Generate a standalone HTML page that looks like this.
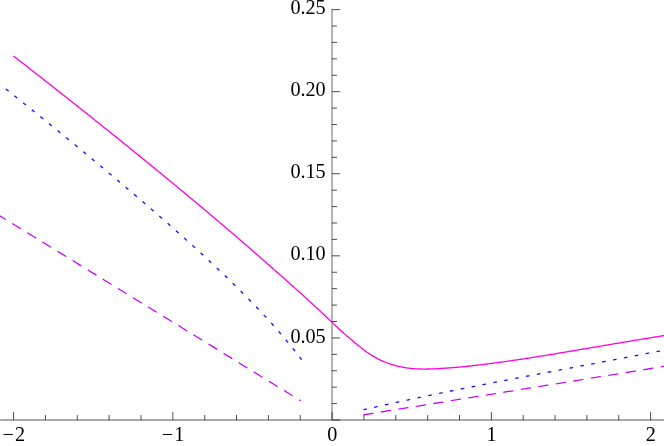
<!DOCTYPE html>
<html><head><meta charset="utf-8"><title>plot</title>
<style>
html,body{margin:0;padding:0;background:#fff;}
#c{position:relative;width:664px;height:446px;overflow:hidden;background:#fff;font-family:"Liberation Serif",serif;font-size:20.2px;color:#000;line-height:24px;}
#c svg{position:absolute;left:0;top:0;}
#t{position:absolute;left:0;top:0;width:664px;height:446px;will-change:transform;}
.yl{position:absolute;right:338.3px;height:24px;white-space:nowrap;text-align:right;}
.xl{position:absolute;top:422px;width:60px;text-align:center;height:24px;white-space:nowrap;}
.g{display:inline-block;width:1.2px;}
</style></head><body>
<div id="c">
<svg width="664" height="446" viewBox="0 0 664 446"><g fill="none"><line x1="0.2" y1="420.0" x2="664" y2="420.0" stroke="#8a8a8a" stroke-width="1.3"/><line x1="332.0" y1="9.10" x2="332.0" y2="420.65" stroke="#8a8a8a" stroke-width="1.3"/><line x1="13.58" y1="420.00" x2="13.58" y2="412.00" stroke="#0a0a0a" stroke-width="0.72"/><line x1="45.43" y1="420.00" x2="45.43" y2="415.00" stroke="#0a0a0a" stroke-width="0.72"/><line x1="77.28" y1="420.00" x2="77.28" y2="415.00" stroke="#0a0a0a" stroke-width="0.72"/><line x1="109.14" y1="420.00" x2="109.14" y2="415.00" stroke="#0a0a0a" stroke-width="0.72"/><line x1="140.99" y1="420.00" x2="140.99" y2="415.00" stroke="#0a0a0a" stroke-width="0.72"/><line x1="172.84" y1="420.00" x2="172.84" y2="412.00" stroke="#0a0a0a" stroke-width="0.72"/><line x1="204.69" y1="420.00" x2="204.69" y2="415.00" stroke="#0a0a0a" stroke-width="0.72"/><line x1="236.54" y1="420.00" x2="236.54" y2="415.00" stroke="#0a0a0a" stroke-width="0.72"/><line x1="268.40" y1="420.00" x2="268.40" y2="415.00" stroke="#0a0a0a" stroke-width="0.72"/><line x1="300.25" y1="420.00" x2="300.25" y2="415.00" stroke="#0a0a0a" stroke-width="0.72"/><line x1="332.10" y1="420.00" x2="332.10" y2="412.00" stroke="#0a0a0a" stroke-width="0.72"/><line x1="363.95" y1="420.00" x2="363.95" y2="415.00" stroke="#0a0a0a" stroke-width="0.72"/><line x1="395.80" y1="420.00" x2="395.80" y2="415.00" stroke="#0a0a0a" stroke-width="0.72"/><line x1="427.66" y1="420.00" x2="427.66" y2="415.00" stroke="#0a0a0a" stroke-width="0.72"/><line x1="459.51" y1="420.00" x2="459.51" y2="415.00" stroke="#0a0a0a" stroke-width="0.72"/><line x1="491.36" y1="420.00" x2="491.36" y2="412.00" stroke="#0a0a0a" stroke-width="0.72"/><line x1="523.21" y1="420.00" x2="523.21" y2="415.00" stroke="#0a0a0a" stroke-width="0.72"/><line x1="555.06" y1="420.00" x2="555.06" y2="415.00" stroke="#0a0a0a" stroke-width="0.72"/><line x1="586.92" y1="420.00" x2="586.92" y2="415.00" stroke="#0a0a0a" stroke-width="0.72"/><line x1="618.77" y1="420.00" x2="618.77" y2="415.00" stroke="#0a0a0a" stroke-width="0.72"/><line x1="650.62" y1="420.00" x2="650.62" y2="412.00" stroke="#0a0a0a" stroke-width="0.72"/><line x1="332.0" y1="420.00" x2="340.00" y2="420.00" stroke="#0a0a0a" stroke-width="0.72"/><line x1="332.0" y1="403.58" x2="337.00" y2="403.58" stroke="#0a0a0a" stroke-width="0.72"/><line x1="332.0" y1="387.17" x2="337.00" y2="387.17" stroke="#0a0a0a" stroke-width="0.72"/><line x1="332.0" y1="370.75" x2="337.00" y2="370.75" stroke="#0a0a0a" stroke-width="0.72"/><line x1="332.0" y1="354.34" x2="337.00" y2="354.34" stroke="#0a0a0a" stroke-width="0.72"/><line x1="332.0" y1="337.92" x2="340.00" y2="337.92" stroke="#0a0a0a" stroke-width="0.72"/><line x1="332.0" y1="321.50" x2="337.00" y2="321.50" stroke="#0a0a0a" stroke-width="0.72"/><line x1="332.0" y1="305.09" x2="337.00" y2="305.09" stroke="#0a0a0a" stroke-width="0.72"/><line x1="332.0" y1="288.67" x2="337.00" y2="288.67" stroke="#0a0a0a" stroke-width="0.72"/><line x1="332.0" y1="272.26" x2="337.00" y2="272.26" stroke="#0a0a0a" stroke-width="0.72"/><line x1="332.0" y1="255.84" x2="340.00" y2="255.84" stroke="#0a0a0a" stroke-width="0.72"/><line x1="332.0" y1="239.42" x2="337.00" y2="239.42" stroke="#0a0a0a" stroke-width="0.72"/><line x1="332.0" y1="223.01" x2="337.00" y2="223.01" stroke="#0a0a0a" stroke-width="0.72"/><line x1="332.0" y1="206.59" x2="337.00" y2="206.59" stroke="#0a0a0a" stroke-width="0.72"/><line x1="332.0" y1="190.18" x2="337.00" y2="190.18" stroke="#0a0a0a" stroke-width="0.72"/><line x1="332.0" y1="173.76" x2="340.00" y2="173.76" stroke="#0a0a0a" stroke-width="0.72"/><line x1="332.0" y1="157.34" x2="337.00" y2="157.34" stroke="#0a0a0a" stroke-width="0.72"/><line x1="332.0" y1="140.93" x2="337.00" y2="140.93" stroke="#0a0a0a" stroke-width="0.72"/><line x1="332.0" y1="124.51" x2="337.00" y2="124.51" stroke="#0a0a0a" stroke-width="0.72"/><line x1="332.0" y1="108.10" x2="337.00" y2="108.10" stroke="#0a0a0a" stroke-width="0.72"/><line x1="332.0" y1="91.68" x2="340.00" y2="91.68" stroke="#0a0a0a" stroke-width="0.72"/><line x1="332.0" y1="75.26" x2="337.00" y2="75.26" stroke="#0a0a0a" stroke-width="0.72"/><line x1="332.0" y1="58.85" x2="337.00" y2="58.85" stroke="#0a0a0a" stroke-width="0.72"/><line x1="332.0" y1="42.43" x2="337.00" y2="42.43" stroke="#0a0a0a" stroke-width="0.72"/><line x1="332.0" y1="26.02" x2="337.00" y2="26.02" stroke="#0a0a0a" stroke-width="0.72"/><line x1="332.0" y1="9.60" x2="340.00" y2="9.60" stroke="#0a0a0a" stroke-width="0.72"/><path d="M13.40,55.92 L14.70,56.94 L16.01,57.96 L17.31,58.97 L18.62,59.99 L19.92,61.01 L21.23,62.02 L22.53,63.04 L23.84,64.06 L25.14,65.08 L26.45,66.09 L27.75,67.11 L29.06,68.13 L30.36,69.15 L31.67,70.17 L32.97,71.19 L34.28,72.21 L35.58,73.23 L36.89,74.26 L38.19,75.28 L39.50,76.30 L40.80,77.32 L42.11,78.34 L43.41,79.37 L44.72,80.39 L46.02,81.41 L47.33,82.44 L48.63,83.46 L49.93,84.49 L51.24,85.51 L52.54,86.54 L53.85,87.57 L55.15,88.59 L56.46,89.62 L57.76,90.65 L59.07,91.68 L60.37,92.71 L61.68,93.73 L62.98,94.76 L64.29,95.79 L65.59,96.82 L66.90,97.85 L68.20,98.89 L69.51,99.92 L70.81,100.95 L72.12,101.98 L73.42,103.01 L74.73,104.05 L76.03,105.08 L77.34,106.12 L78.64,107.15 L79.95,108.19 L81.25,109.22 L82.55,110.26 L83.86,111.29 L85.16,112.33 L86.47,113.37 L87.77,114.41 L89.08,115.45 L90.38,116.49 L91.69,117.53 L92.99,118.57 L94.30,119.61 L95.60,120.65 L96.91,121.69 L98.21,122.73 L99.52,123.77 L100.82,124.82 L102.13,125.86 L103.43,126.91 L104.74,127.95 L106.04,129.00 L107.35,130.04 L108.65,131.09 L109.96,132.14 L111.26,133.18 L112.57,134.23 L113.87,135.28 L115.18,136.33 L116.48,137.38 L117.78,138.43 L119.09,139.48 L120.39,140.53 L121.70,141.58 L123.00,142.64 L124.31,143.69 L125.61,144.74 L126.92,145.80 L128.22,146.85 L129.53,147.91 L130.83,148.97 L132.14,150.02 L133.44,151.08 L134.75,152.14 L136.05,153.20 L137.36,154.26 L138.66,155.32 L139.97,156.38 L141.27,157.44 L142.58,158.50 L143.88,159.56 L145.19,160.62 L146.49,161.69 L147.80,162.75 L149.10,163.82 L150.41,164.88 L151.71,165.95 L153.01,167.02 L154.32,168.08 L155.62,169.15 L156.93,170.22 L158.23,171.29 L159.54,172.36 L160.84,173.43 L162.15,174.50 L163.45,175.58 L164.76,176.65 L166.06,177.72 L167.37,178.80 L168.67,179.87 L169.98,180.95 L171.28,182.03 L172.59,183.10 L173.89,184.18 L175.20,185.26 L176.50,186.34 L177.81,187.42 L179.11,188.50 L180.42,189.58 L181.72,190.66 L183.03,191.75 L184.33,192.83 L185.63,193.91 L186.94,195.00 L188.24,196.09 L189.55,197.17 L190.85,198.26 L192.16,199.35 L193.46,200.44 L194.77,201.53 L196.07,202.62 L197.38,203.71 L198.68,204.80 L199.99,205.89 L201.29,206.99 L202.60,208.08 L203.90,209.18 L205.21,210.27 L206.51,211.37 L207.82,212.47 L209.12,213.56 L210.43,214.66 L211.73,215.76 L213.04,216.86 L214.34,217.97 L215.65,219.07 L216.95,220.17 L218.26,221.27 L219.56,222.38 L220.86,223.48 L222.17,224.59 L223.47,225.70 L224.78,226.81 L226.08,227.92 L227.39,229.03 L228.69,230.14 L230.00,231.25 L231.30,232.36 L232.61,233.47 L233.91,234.59 L235.22,235.70 L236.52,236.82 L237.83,237.94 L239.13,239.05 L240.44,240.18 L241.74,241.30 L243.05,242.43 L244.35,243.56 L245.66,244.70 L246.96,245.83 L248.27,246.97 L249.57,248.11 L250.88,249.25 L252.18,250.39 L253.48,251.54 L254.79,252.68 L256.09,253.83 L257.40,254.97 L258.70,256.12 L260.01,257.27 L261.31,258.41 L262.62,259.56 L263.92,260.70 L265.23,261.85 L266.53,262.99 L267.84,264.14 L269.14,265.28 L270.45,266.43 L271.75,267.58 L273.06,268.72 L274.36,269.87 L275.67,271.02 L276.97,272.17 L278.28,273.32 L279.58,274.47 L280.89,275.62 L282.19,276.78 L283.50,277.93 L284.80,279.09 L286.11,280.25 L287.41,281.40 L288.71,282.56 L290.02,283.73 L291.32,284.89 L292.63,286.05 L293.93,287.22 L295.24,288.39 L296.54,289.56 L297.85,290.73 L299.15,291.90 L300.46,293.08 L301.76,294.26 L303.07,295.44 L304.37,296.62 L305.68,297.81 L306.98,299.00 L308.29,300.19 L309.59,301.38 L310.90,302.58 L312.20,303.78 L313.51,304.98 L314.81,306.18 L316.12,307.39 L317.42,308.60 L318.73,309.82 L320.03,311.04 L321.34,312.26 L322.64,313.48 L323.94,314.71 L325.25,315.94 L326.55,317.18 L327.86,318.41 L329.16,319.65 L330.47,320.89 L331.77,322.13 L333.08,323.37 L334.38,324.61 L335.69,325.84 L336.99,327.06 L338.30,328.27 L339.60,329.46 L340.91,330.65 L342.21,331.82 L343.52,332.98 L344.82,334.13 L346.13,335.27 L347.43,336.39 L348.74,337.51 L350.04,338.62 L351.35,339.73 L352.65,340.82 L353.96,341.90 L355.26,342.98 L356.56,344.06 L357.87,345.13 L359.17,346.19 L360.48,347.24 L361.78,348.28 L363.09,349.30 L364.39,350.29 L365.70,351.25 L367.00,352.19 L368.31,353.08 L369.61,353.95 L370.92,354.79 L372.22,355.61 L373.53,356.40 L374.83,357.16 L376.14,357.90 L377.44,358.60 L378.75,359.28 L380.05,359.92 L381.36,360.54 L382.66,361.13 L383.97,361.69 L385.27,362.23 L386.58,362.75 L387.88,363.24 L389.19,363.71 L390.49,364.16 L391.79,364.58 L393.10,364.98 L394.40,365.36 L395.71,365.72 L397.01,366.06 L398.32,366.37 L399.62,366.67 L400.93,366.95 L402.23,367.20 L403.54,367.44 L404.84,367.66 L406.15,367.86 L407.45,368.04 L408.76,368.21 L410.06,368.36 L411.37,368.49 L412.67,368.60 L413.98,368.70 L415.28,368.79 L416.59,368.86 L417.89,368.92 L419.20,368.97 L420.50,369.01 L421.81,369.03 L423.11,369.04 L424.42,369.05 L425.72,369.04 L427.02,369.02 L428.33,369.00 L429.63,368.97 L430.94,368.93 L432.24,368.89 L433.55,368.84 L434.85,368.78 L436.16,368.72 L437.46,368.65 L438.77,368.58 L440.07,368.50 L441.38,368.42 L442.68,368.34 L443.99,368.25 L445.29,368.16 L446.60,368.07 L447.90,367.98 L449.21,367.88 L450.51,367.79 L451.82,367.68 L453.12,367.58 L454.43,367.48 L455.73,367.37 L457.04,367.26 L458.34,367.15 L459.64,367.03 L460.95,366.91 L462.25,366.79 L463.56,366.66 L464.86,366.54 L466.17,366.40 L467.47,366.27 L468.78,366.13 L470.08,365.99 L471.39,365.84 L472.69,365.70 L474.00,365.55 L475.30,365.40 L476.61,365.25 L477.91,365.10 L479.22,364.94 L480.52,364.78 L481.83,364.63 L483.13,364.47 L484.44,364.31 L485.74,364.14 L487.05,363.98 L488.35,363.81 L489.66,363.65 L490.96,363.48 L492.27,363.31 L493.57,363.14 L494.87,362.97 L496.18,362.79 L497.48,362.62 L498.79,362.44 L500.09,362.26 L501.40,362.08 L502.70,361.90 L504.01,361.72 L505.31,361.54 L506.62,361.35 L507.92,361.17 L509.23,360.98 L510.53,360.79 L511.84,360.60 L513.14,360.41 L514.45,360.22 L515.75,360.03 L517.06,359.84 L518.36,359.64 L519.67,359.45 L520.97,359.25 L522.28,359.05 L523.58,358.85 L524.89,358.65 L526.19,358.45 L527.49,358.25 L528.80,358.05 L530.10,357.85 L531.41,357.64 L532.71,357.44 L534.02,357.23 L535.32,357.03 L536.63,356.82 L537.93,356.61 L539.24,356.40 L540.54,356.19 L541.85,355.98 L543.15,355.77 L544.46,355.56 L545.76,355.34 L547.07,355.13 L548.37,354.92 L549.68,354.70 L550.98,354.49 L552.29,354.27 L553.59,354.05 L554.90,353.84 L556.20,353.62 L557.51,353.40 L558.81,353.18 L560.12,352.96 L561.42,352.74 L562.72,352.52 L564.03,352.31 L565.33,352.09 L566.64,351.87 L567.94,351.65 L569.25,351.43 L570.55,351.21 L571.86,350.99 L573.16,350.77 L574.47,350.55 L575.77,350.33 L577.08,350.11 L578.38,349.89 L579.69,349.67 L580.99,349.45 L582.30,349.23 L583.60,349.00 L584.91,348.78 L586.21,348.56 L587.52,348.34 L588.82,348.12 L590.13,347.90 L591.43,347.68 L592.74,347.46 L594.04,347.24 L595.35,347.02 L596.65,346.80 L597.95,346.58 L599.26,346.36 L600.56,346.14 L601.87,345.92 L603.17,345.70 L604.48,345.48 L605.78,345.26 L607.09,345.04 L608.39,344.82 L609.70,344.60 L611.00,344.38 L612.31,344.16 L613.61,343.94 L614.92,343.73 L616.22,343.51 L617.53,343.29 L618.83,343.07 L620.14,342.85 L621.44,342.63 L622.75,342.41 L624.05,342.19 L625.36,341.98 L626.66,341.76 L627.97,341.54 L629.27,341.32 L630.57,341.10 L631.88,340.89 L633.18,340.67 L634.49,340.45 L635.79,340.23 L637.10,340.02 L638.40,339.80 L639.71,339.58 L641.01,339.37 L642.32,339.15 L643.62,338.93 L644.93,338.72 L646.23,338.50 L647.54,338.28 L648.84,338.07 L650.15,337.85 L651.45,337.64 L652.76,337.43 L654.06,337.21 L655.37,337.00 L656.67,336.79 L657.98,336.58 L659.28,336.37 L660.59,336.15 L661.89,335.95 L663.20,335.74 L664.50,335.53" stroke="#ff00d9" stroke-width="1.3"/><path d="M-2.35,214.52 L300.25,400.46" stroke="#c800ff" stroke-width="1.25" stroke-dasharray="9.0 8.719999999999999" stroke-linecap="square"/><path d="M363.95,414.73 L666.50,366.02" stroke="#c800ff" stroke-width="1.25" stroke-dasharray="9.0 8.719999999999999" stroke-linecap="square"/><path d="M-2.35,82.47 L-1.59,83.07 L-0.82,83.67 L-0.06,84.27 L0.70,84.88 L1.46,85.48 L2.22,86.08 L2.98,86.69 L3.74,87.29 L4.50,87.89 L5.26,88.50 L6.02,89.10 L6.78,89.70 L7.54,90.31 L8.30,90.91 L9.06,91.52 L9.82,92.12 L10.58,92.73 L11.35,93.34 L12.11,93.94 L12.87,94.55 L13.63,95.15 L14.39,95.76 L15.15,96.37 L15.91,96.97 L16.67,97.58 L17.43,98.19 L18.19,98.80 L18.95,99.40 L19.71,100.01 L20.47,100.62 L21.23,101.23 L21.99,101.84 L22.76,102.45 L23.52,103.06 L24.28,103.67 L25.04,104.28 L25.80,104.88 L26.56,105.50 L27.32,106.11 L28.08,106.72 L28.84,107.33 L29.60,107.94 L30.36,108.55 L31.12,109.16 L31.88,109.77 L32.64,110.38 L33.40,111.00 L34.16,111.61 L34.93,112.22 L35.69,112.83 L36.45,113.45 L37.21,114.06 L37.97,114.67 L38.73,115.29 L39.49,115.90 L40.25,116.52 L41.01,117.13 L41.77,117.75 L42.53,118.36 L43.29,118.98 L44.05,119.59 L44.81,120.21 L45.57,120.82 L46.33,121.44 L47.10,122.05 L47.86,122.67 L48.62,123.29 L49.38,123.91 L50.14,124.52 L50.90,125.14 L51.66,125.76 L52.42,126.38 L53.18,127.00 L53.94,127.61 L54.70,128.23 L55.46,128.85 L56.22,129.47 L56.98,130.09 L57.74,130.71 L58.50,131.33 L59.27,131.95 L60.03,132.57 L60.79,133.19 L61.55,133.81 L62.31,134.44 L63.07,135.06 L63.83,135.68 L64.59,136.30 L65.35,136.92 L66.11,137.55 L66.87,138.17 L67.63,138.79 L68.39,139.42 L69.15,140.04 L69.91,140.66 L70.68,141.29 L71.44,141.91 L72.20,142.54 L72.96,143.16 L73.72,143.79 L74.48,144.41 L75.24,145.04 L76.00,145.67 L76.76,146.29 L77.52,146.92 L78.28,147.55 L79.04,148.17 L79.80,148.80 L80.56,149.43 L81.32,150.06 L82.08,150.69 L82.85,151.31 L83.61,151.94 L84.37,152.57 L85.13,153.20 L85.89,153.83 L86.65,154.46 L87.41,155.09 L88.17,155.72 L88.93,156.35 L89.69,156.98 L90.45,157.62 L91.21,158.25 L91.97,158.88 L92.73,159.51 L93.49,160.14 L94.25,160.78 L95.02,161.41 L95.78,162.04 L96.54,162.68 L97.30,163.31 L98.06,163.95 L98.82,164.58 L99.58,165.21 L100.34,165.85 L101.10,166.49 L101.86,167.12 L102.62,167.76 L103.38,168.39 L104.14,169.03 L104.90,169.67 L105.66,170.30 L106.43,170.94 L107.19,171.58 L107.95,172.22 L108.71,172.86 L109.47,173.49 L110.23,174.13 L110.99,174.77 L111.75,175.41 L112.51,176.05 L113.27,176.69 L114.03,177.33 L114.79,177.97 L115.55,178.61 L116.31,179.26 L117.07,179.90 L117.83,180.54 L118.60,181.18 L119.36,181.82 L120.12,182.47 L120.88,183.11 L121.64,183.75 L122.40,184.40 L123.16,185.04 L123.92,185.69 L124.68,186.33 L125.44,186.98 L126.20,187.62 L126.96,188.27 L127.72,188.91 L128.48,189.56 L129.24,190.21 L130.00,190.85 L130.77,191.50 L131.53,192.15 L132.29,192.79 L133.05,193.44 L133.81,194.09 L134.57,194.74 L135.33,195.39 L136.09,196.04 L136.85,196.69 L137.61,197.34 L138.37,197.99 L139.13,198.64 L139.89,199.29 L140.65,199.94 L141.41,200.59 L142.17,201.25 L142.94,201.90 L143.70,202.55 L144.46,203.21 L145.22,203.86 L145.98,204.52 L146.74,205.17 L147.50,205.83 L148.26,206.48 L149.02,207.14 L149.78,207.80 L150.54,208.45 L151.30,209.11 L152.06,209.77 L152.82,210.43 L153.58,211.09 L154.35,211.75 L155.11,212.41 L155.87,213.07 L156.63,213.73 L157.39,214.39 L158.15,215.05 L158.91,215.71 L159.67,216.37 L160.43,217.04 L161.19,217.70 L161.95,218.36 L162.71,219.03 L163.47,219.69 L164.23,220.36 L164.99,221.02 L165.75,221.69 L166.52,222.36 L167.28,223.02 L168.04,223.69 L168.80,224.36 L169.56,225.03 L170.32,225.70 L171.08,226.37 L171.84,227.04 L172.60,227.71 L173.36,228.38 L174.12,229.05 L174.88,229.72 L175.64,230.40 L176.40,231.07 L177.16,231.74 L177.92,232.42 L178.69,233.10 L179.45,233.77 L180.21,234.45 L180.97,235.13 L181.73,235.80 L182.49,236.48 L183.25,237.16 L184.01,237.84 L184.77,238.52 L185.53,239.20 L186.29,239.89 L187.05,240.57 L187.81,241.25 L188.57,241.94 L189.33,242.62 L190.10,243.31 L190.86,244.00 L191.62,244.68 L192.38,245.37 L193.14,246.06 L193.90,246.75 L194.66,247.44 L195.42,248.13 L196.18,248.83 L196.94,249.52 L197.70,250.21 L198.46,250.91 L199.22,251.60 L199.98,252.30 L200.74,253.00 L201.50,253.70 L202.27,254.40 L203.03,255.10 L203.79,255.80 L204.55,256.50 L205.31,257.20 L206.07,257.91 L206.83,258.61 L207.59,259.32 L208.35,260.03 L209.11,260.73 L209.87,261.44 L210.63,262.15 L211.39,262.86 L212.15,263.58 L212.91,264.29 L213.67,265.00 L214.44,265.72 L215.20,266.44 L215.96,267.15 L216.72,267.87 L217.48,268.59 L218.24,269.31 L219.00,270.03 L219.76,270.76 L220.52,271.48 L221.28,272.21 L222.04,272.93 L222.80,273.66 L223.56,274.39 L224.32,275.12 L225.08,275.85 L225.84,276.58 L226.61,277.31 L227.37,278.05 L228.13,278.78 L228.89,279.52 L229.65,280.26 L230.41,281.00 L231.17,281.74 L231.93,282.48 L232.69,283.22 L233.45,283.96 L234.21,284.71 L234.97,285.46 L235.73,286.20 L236.49,286.95 L237.25,287.70 L238.02,288.45 L238.78,289.21 L239.54,289.96 L240.30,290.72 L241.06,291.48 L241.82,292.23 L242.58,293.00 L243.34,293.76 L244.10,294.52 L244.86,295.29 L245.62,296.05 L246.38,296.82 L247.14,297.59 L247.90,298.36 L248.66,299.13 L249.42,299.91 L250.19,300.69 L250.95,301.46 L251.71,302.24 L252.47,303.03 L253.23,303.81 L253.99,304.60 L254.75,305.38 L255.51,306.17 L256.27,306.96 L257.03,307.76 L257.79,308.55 L258.55,309.35 L259.31,310.15 L260.07,310.96 L260.83,311.76 L261.59,312.57 L262.36,313.38 L263.12,314.19 L263.88,315.01 L264.64,315.82 L265.40,316.64 L266.16,317.47 L266.92,318.29 L267.68,319.12 L268.44,319.96 L269.20,320.79 L269.96,321.63 L270.72,322.47 L271.48,323.31 L272.24,324.16 L273.00,325.01 L273.77,325.86 L274.53,326.72 L275.29,327.58 L276.05,328.44 L276.81,329.31 L277.57,330.18 L278.33,331.05 L279.09,331.93 L279.85,332.80 L280.61,333.69 L281.37,334.57 L282.13,335.46 L282.89,336.36 L283.65,337.26 L284.41,338.16 L285.17,339.06 L285.94,339.97 L286.70,340.88 L287.46,341.80 L288.22,342.72 L288.98,343.64 L289.74,344.57 L290.50,345.50 L291.26,346.44 L292.02,347.38 L292.78,348.33 L293.54,349.28 L294.30,350.23 L295.06,351.19 L295.82,352.15 L296.58,353.12 L297.34,354.09 L298.11,355.06 L298.87,356.04 L299.63,357.03 L300.39,358.02 L301.15,359.01" stroke="#2a00ff" stroke-width="1.3" stroke-dasharray="2.3 8.77" stroke-linecap="square"/><path d="M363.95,409.59 L364.96,409.36 L365.98,409.13 L366.99,408.90 L368.00,408.67 L369.01,408.44 L370.02,408.21 L371.04,407.98 L372.05,407.76 L373.06,407.53 L374.07,407.30 L375.08,407.08 L376.09,406.85 L377.11,406.63 L378.12,406.40 L379.13,406.18 L380.14,405.95 L381.15,405.73 L382.17,405.50 L383.18,405.28 L384.19,405.06 L385.20,404.83 L386.21,404.61 L387.22,404.39 L388.24,404.17 L389.25,403.95 L390.26,403.72 L391.27,403.50 L392.28,403.28 L393.30,403.06 L394.31,402.84 L395.32,402.62 L396.33,402.41 L397.34,402.19 L398.36,401.97 L399.37,401.75 L400.38,401.53 L401.39,401.31 L402.40,401.10 L403.41,400.88 L404.43,400.66 L405.44,400.45 L406.45,400.23 L407.46,400.02 L408.47,399.80 L409.49,399.59 L410.50,399.37 L411.51,399.16 L412.52,398.94 L413.53,398.73 L414.55,398.52 L415.56,398.30 L416.57,398.09 L417.58,397.88 L418.59,397.66 L419.60,397.45 L420.62,397.24 L421.63,397.03 L422.64,396.82 L423.65,396.61 L424.66,396.40 L425.68,396.19 L426.69,395.98 L427.70,395.77 L428.71,395.56 L429.72,395.35 L430.74,395.14 L431.75,394.93 L432.76,394.72 L433.77,394.51 L434.78,394.30 L435.79,394.10 L436.81,393.89 L437.82,393.68 L438.83,393.48 L439.84,393.27 L440.85,393.06 L441.87,392.86 L442.88,392.65 L443.89,392.44 L444.90,392.24 L445.91,392.03 L446.93,391.83 L447.94,391.62 L448.95,391.42 L449.96,391.21 L450.97,391.01 L451.98,390.81 L453.00,390.60 L454.01,390.40 L455.02,390.19 L456.03,389.99 L457.04,389.79 L458.06,389.59 L459.07,389.38 L460.08,389.18 L461.09,388.98 L462.10,388.78 L463.11,388.58 L464.13,388.37 L465.14,388.17 L466.15,387.97 L467.16,387.77 L468.17,387.57 L469.19,387.37 L470.20,387.17 L471.21,386.97 L472.22,386.77 L473.23,386.57 L474.25,386.37 L475.26,386.17 L476.27,385.97 L477.28,385.77 L478.29,385.57 L479.30,385.38 L480.32,385.18 L481.33,384.98 L482.34,384.78 L483.35,384.58 L484.36,384.39 L485.38,384.19 L486.39,383.99 L487.40,383.79 L488.41,383.60 L489.42,383.40 L490.44,383.20 L491.45,383.01 L492.46,382.81 L493.47,382.61 L494.48,382.42 L495.49,382.22 L496.51,382.02 L497.52,381.83 L498.53,381.63 L499.54,381.44 L500.55,381.24 L501.57,381.05 L502.58,380.85 L503.59,380.66 L504.60,380.46 L505.61,380.27 L506.63,380.07 L507.64,379.88 L508.65,379.68 L509.66,379.49 L510.67,379.30 L511.68,379.10 L512.70,378.91 L513.71,378.71 L514.72,378.52 L515.73,378.33 L516.74,378.13 L517.76,377.94 L518.77,377.75 L519.78,377.55 L520.79,377.36 L521.80,377.17 L522.81,376.97 L523.83,376.78 L524.84,376.59 L525.85,376.40 L526.86,376.20 L527.87,376.01 L528.89,375.82 L529.90,375.63 L530.91,375.44 L531.92,375.24 L532.93,375.05 L533.95,374.86 L534.96,374.67 L535.97,374.48 L536.98,374.28 L537.99,374.09 L539.00,373.90 L540.02,373.71 L541.03,373.52 L542.04,373.33 L543.05,373.14 L544.06,372.94 L545.08,372.75 L546.09,372.56 L547.10,372.37 L548.11,372.18 L549.12,371.99 L550.14,371.80 L551.15,371.61 L552.16,371.42 L553.17,371.23 L554.18,371.04 L555.19,370.85 L556.21,370.65 L557.22,370.46 L558.23,370.27 L559.24,370.08 L560.25,369.89 L561.27,369.70 L562.28,369.51 L563.29,369.32 L564.30,369.13 L565.31,368.94 L566.33,368.75 L567.34,368.56 L568.35,368.37 L569.36,368.18 L570.37,367.99 L571.38,367.80 L572.40,367.61 L573.41,367.42 L574.42,367.23 L575.43,367.04 L576.44,366.85 L577.46,366.66 L578.47,366.47 L579.48,366.28 L580.49,366.09 L581.50,365.90 L582.52,365.71 L583.53,365.52 L584.54,365.33 L585.55,365.13 L586.56,364.94 L587.57,364.75 L588.59,364.56 L589.60,364.37 L590.61,364.18 L591.62,363.99 L592.63,363.80 L593.65,363.61 L594.66,363.42 L595.67,363.23 L596.68,363.04 L597.69,362.85 L598.70,362.66 L599.72,362.47 L600.73,362.28 L601.74,362.09 L602.75,361.89 L603.76,361.70 L604.78,361.51 L605.79,361.32 L606.80,361.13 L607.81,360.94 L608.82,360.75 L609.84,360.56 L610.85,360.37 L611.86,360.17 L612.87,359.98 L613.88,359.79 L614.89,359.60 L615.91,359.41 L616.92,359.22 L617.93,359.02 L618.94,358.83 L619.95,358.64 L620.97,358.45 L621.98,358.26 L622.99,358.06 L624.00,357.87 L625.01,357.68 L626.03,357.49 L627.04,357.29 L628.05,357.10 L629.06,356.91 L630.07,356.72 L631.08,356.52 L632.10,356.33 L633.11,356.14 L634.12,355.94 L635.13,355.75 L636.14,355.56 L637.16,355.36 L638.17,355.17 L639.18,354.97 L640.19,354.78 L641.20,354.59 L642.22,354.39 L643.23,354.20 L644.24,354.00 L645.25,353.81 L646.26,353.61 L647.27,353.42 L648.29,353.22 L649.30,353.03 L650.31,352.83 L651.32,352.64 L652.33,352.44 L653.35,352.25 L654.36,352.05 L655.37,351.86 L656.38,351.66 L657.39,351.46 L658.41,351.27 L659.42,351.07 L660.43,350.87 L661.44,350.68 L662.45,350.48 L663.46,350.28 L664.48,350.09 L665.49,349.89 L666.50,349.69" stroke="#2a00ff" stroke-width="1.3" stroke-dasharray="2.3 8.77" stroke-linecap="square"/></g></svg>
<div id="t"><div class="yl" style="top:323.5px">0.05</div><div class="yl" style="top:241.4px">0.10</div><div class="yl" style="top:159.4px">0.15</div><div class="yl" style="top:77.3px">0.20</div><div class="yl" style="top:-4.8px">0.25</div><div class="xl" style="left:-16.2px">−<span class="g"></span>2</div><div class="xl" style="left:143.0px">−<span class="g"></span>1</div><div class="xl" style="left:302.3px">0</div><div class="xl" style="left:461.6px">1</div><div class="xl" style="left:620.8px">2</div></div>
</div>
</body></html>
